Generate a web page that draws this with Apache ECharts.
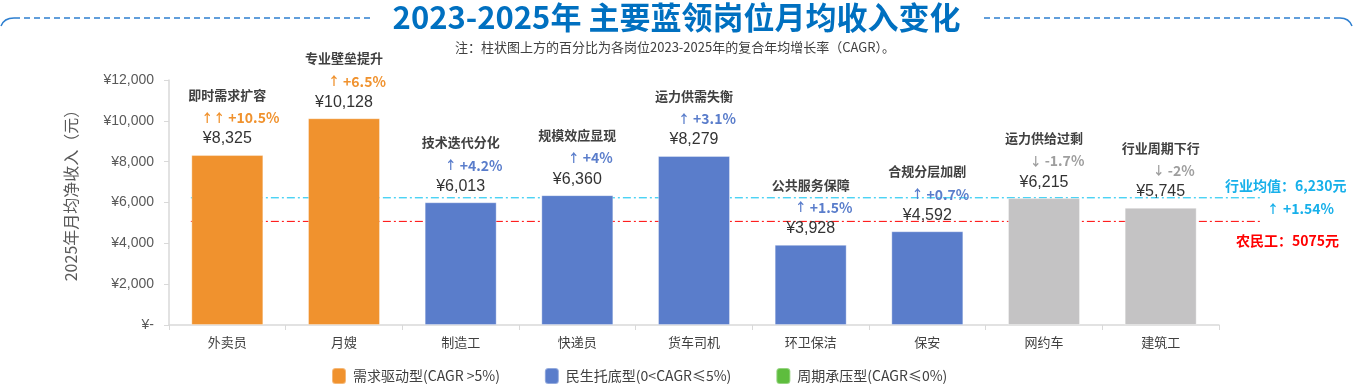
<!DOCTYPE html>
<html>
<head>
<meta charset="utf-8">
<title>蓝领岗位月均收入</title>
<script src="https://cdn.jsdelivr.net/npm/echarts@6/dist/echarts.min.js"></script>
<style>
  html, body { margin: 0; padding: 0; background: #fff; }
  #main { width: 1353px; height: 384px; }
</style>
</head>
<body>
<div id="main"></div>
<script>
// 岗位 / 2025年月均净收入 / 2023-2025 CAGR
const categories = ['外卖员', '月嫂', '制造工', '快递员', '货车司机', '环卫保洁', '保安', '网约车', '建筑工'];
const incomes = [8325, 10128, 6013, 6360, 8279, 3928, 4592, 6215, 5745];
const cagrs = [10.5, 6.5, 4.2, 4, 3.1, 1.5, 0.7, -1.7, -2];
const arrows = ['↑↑', '↑', '↑', '↑', '↑', '↑', '↑', '↓', '↓'];
const drivers = ['即时需求扩容', '专业壁垒提升', '技术迭代分化', '规模效应显现', '运力供需失衡', '公共服务保障', '合规分层加剧', '运力供给过剩', '行业周期下行'];
// 0 需求驱动型, 1 民生托底型, 2 周期承压型
const groups = [0, 0, 1, 1, 1, 1, 1, 2, 2];
const groupNames = ['需求驱动型(CAGR >5%)', '民生托底型(0<CAGR≤5%)', '周期承压型(CAGR≤0%)'];
const yTicks = [0, 2000, 4000, 6000, 8000, 10000, 12000];
const avgIncome = 6230;
const avgCagr = 1.54;
const migrantIncome = 5075;

const groupColors = ['#F0922E', '#5A7DCB', '#5EBD3E'];
const cagrColors = ['#F0922E', '#5A7DCB', '#9E9E9E'];
const greyBar = '#C4C3C4';
const cjk = '"Noto Sans CJK SC", "Microsoft YaHei", sans-serif';
const latin = '"Liberation Sans", Arial, sans-serif';

function money(v) {
  return v.toString().replace(/\B(?=(\d{3})+(?!\d))/g, ',');
}
function cagrText(v) {
  return (v > 0 ? '+' : '') + v + '%';
}

var myChart = echarts.init(document.getElementById('main'));

var rich = {
  a: { fontFamily: cjk, fontSize: 13, fontWeight: 'bold', color: '#404040', lineHeight: 26 },
  v: { fontFamily: latin, fontSize: 16, color: '#333333', lineHeight: 22 }
};
for (let g = 0; g < 3; g++) {
  rich['ar' + g] = { fontFamily: cjk, fontSize: 12, fontWeight: 'bold', color: cagrColors[g], padding: [0, 3, 0, 26], lineHeight: 20 };
  rich['c' + g] = { fontFamily: cjk, fontSize: 14, fontWeight: 'bold', color: cagrColors[g], lineHeight: 20 };
}

var barSeries = groupNames.map(function (name, g) {
  return {
    name: name,
    type: 'bar',
    stack: 'all',
    xAxisIndex: 0,
    yAxisIndex: 0,
    barWidth: 72,
    z: 3,
    itemStyle: { color: groupColors[g], borderColor: 'rgba(255,255,255,0.35)', borderWidth: 1 },
    label: {
      show: true,
      position: 'top',
      distance: 5,
      align: 'center',
      formatter: function (p) {
        var i = p.dataIndex;
        return '{a|' + drivers[i] + '}\n{ar' + g + '|' + arrows[i] + '}{c' + g + '|' + cagrText(cagrs[i]) + '}\n{v|¥' + money(incomes[i]) + '}';
      },
      rich: rich
    },
    data: incomes.map(function (v, i) {
      if (groups[i] !== g) return null;
      if (g === 2) return { value: v, itemStyle: { color: greyBar } };
      return v;
    })
  };
});

var refLine = function (val, color) {
  return {
    type: 'line',
    xAxisIndex: 1,
    yAxisIndex: 1,
    symbol: 'none',
    silent: true,
    z: 1,
    lineStyle: { color: color, width: 1, type: [8, 3, 2, 3] },
    data: [[0.02, val], [1, val]]
  };
};

var option = {
  animation: false,
  title: [
    {
      text: '2023-2025年 主要蓝领岗位月均收入变化',
      left: 'center',
      top: -3,
      textStyle: { fontFamily: cjk, fontSize: 31, fontWeight: 'bold', color: '#0070C0' }
    },
    {
      text: '注：柱状图上方的百分比为各岗位2023-2025年的复合年均增长率（CAGR）。',
      left: 670,
      top: 36,
      textAlign: 'center',
      textStyle: { fontFamily: cjk, fontSize: 13, fontWeight: 'normal', color: '#404040' }
    }
  ],
  graphic: [
    { type: 'line', shape: { x1: 14, y1: 18, x2: 372, y2: 18 }, style: { stroke: '#2E7FD0', lineWidth: 1.5, lineDash: [6, 4] } },
    { type: 'bezierCurve', shape: { x1: 1, y1: 26, cpx1: 4, cpy1: 18, x2: 14, y2: 18 }, style: { stroke: '#2E7FD0', lineWidth: 1.5, fill: null } },
    { type: 'line', shape: { x1: 984, y1: 18, x2: 1340, y2: 18 }, style: { stroke: '#2E7FD0', lineWidth: 1.5, lineDash: [6, 4] } },
    { type: 'bezierCurve', shape: { x1: 1340, y1: 18, cpx1: 1349, cpy1: 18, x2: 1352, y2: 26 }, style: { stroke: '#2E7FD0', lineWidth: 1.5, fill: null } },
    {
      type: 'text', left: 1225, top: 179,
      style: { text: '行业均值：' + money(avgIncome) + '元', font: 'bold 14px ' + cjk, fill: '#17B0EA' }
    },
    {
      type: 'text', left: 1267, top: 202,
      style: {
        text: '{ar|↑}{c|+' + avgCagr + '%}',
        rich: {
          ar: { fontFamily: cjk, fontSize: 12, fontWeight: 'bold', fill: '#17B0EA', padding: [0, 4, 0, 0] },
          c: { fontFamily: cjk, fontSize: 14, fontWeight: 'bold', fill: '#17B0EA' }
        }
      }
    },
    {
      type: 'text', left: 1236, top: 234,
      style: { text: '农民工：' + migrantIncome + '元', font: 'bold 14px ' + cjk, fill: '#FF0000' }
    }
  ],
  legend: {
    data: groupNames,
    left: 326,
    top: 362,
    icon: 'roundRect',
    itemWidth: 14,
    itemHeight: 16,
    itemGap: 44,
    textStyle: { fontFamily: cjk, fontSize: 14, color: '#404040', padding: [0, 0, 0, 2] }
  },
  grid: [
    { left: 169, right: 134, top: 80, bottom: 59 },
    { left: 169, right: 91, top: 80, bottom: 59 }
  ],
  xAxis: [
    {
      type: 'category',
      gridIndex: 0,
      data: categories,
      axisLine: { lineStyle: { color: '#D9D9D9', width: 1.5 } },
      axisTick: { show: true, length: 5, lineStyle: { color: '#D9D9D9' } },
      axisLabel: { fontFamily: cjk, fontSize: 13, color: '#404040', margin: 11 }
    },
    { type: 'value', gridIndex: 1, min: 0, max: 1, show: false }
  ],
  yAxis: [
    {
      type: 'value',
      gridIndex: 0,
      min: yTicks[0],
      max: yTicks[yTicks.length - 1],
      interval: yTicks[1] - yTicks[0],
      name: '2025年月均净收入（元）',
      nameLocation: 'middle',
      nameGap: 90,
      nameTextStyle: { fontFamily: cjk, fontSize: 16, color: '#595959', padding: [0, 0, 0, 22] },
      axisLine: { show: true, lineStyle: { color: '#D9D9D9', width: 1.5 } },
      axisTick: { show: true, length: 5, lineStyle: { color: '#D9D9D9' } },
      splitLine: { show: false },
      axisLabel: {
        fontFamily: latin,
        fontSize: 14,
        color: '#595959',
        margin: 15,
        formatter: function (v) { return v === 0 ? '¥-' : '¥' + money(v); }
      }
    },
    { type: 'value', gridIndex: 1, min: yTicks[0], max: yTicks[yTicks.length - 1], show: false }
  ],
  series: barSeries.concat([refLine(avgIncome, '#00C0F0'), refLine(migrantIncome, '#FF0000')])
};

myChart.setOption(option);
</script>
</body>
</html>
